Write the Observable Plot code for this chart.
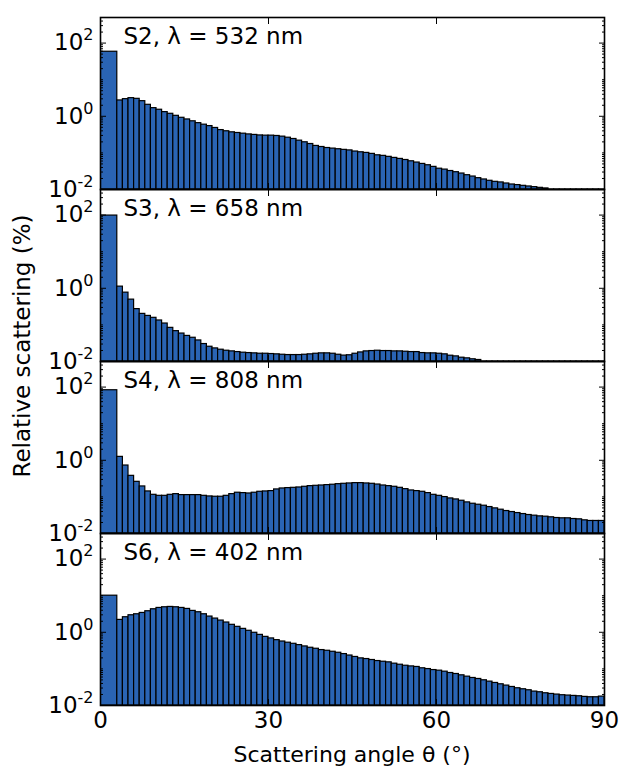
<!DOCTYPE html>
<html>
<head>
<meta charset="utf-8">
<script src="https://cdn.jsdelivr.net/npm/d3@7"></script>
<script src="https://cdn.jsdelivr.net/npm/@observablehq/plot@0.6"></script>
<style>
  html, body { margin: 0; padding: 0; background: #fff; }
  #chart { width: 619px; height: 766px; }
</style>
</head>
<body>
<div id="chart"></div>
<script>
// ---- data ----
const panels = ["S2", "S3", "S4", "S6"];
const panelTitles = ["S2, λ = 532 nm", "S3, λ = 658 nm", "S4, λ = 808 nm", "S6, λ = 402 nm"];

// bin edges in degrees: first bin 0–3°, then 1° bins up to 90°
const binEdges = [0, 3, 4, 5, 6, 7, 8, 9, 10, 11, 12, 13, 14, 15, 16, 17, 18, 19, 20,
  21, 22, 23, 24, 25, 26, 27, 28, 29, 30, 31, 32, 33, 34, 35, 36, 37, 38, 39, 40,
  41, 42, 43, 44, 45, 46, 47, 48, 49, 50, 51, 52, 53, 54, 55, 56, 57, 58, 59, 60,
  61, 62, 63, 64, 65, 66, 67, 68, 69, 70, 71, 72, 73, 74, 75, 76, 77, 78, 79, 80,
  81, 82, 83, 84, 85, 86, 87, 88, 89, 90];

const S2 = [58,
  2.71, 2.94, 3.13, 3.0, 2.59, 2.06, 1.67, 1.51, 1.30, 1.17, 1.03, 0.91, 0.82, 0.73, 0.65, 0.59, 0.54,
  0.48, 0.42, 0.39, 0.365, 0.35, 0.335, 0.32, 0.31, 0.30, 0.296, 0.296, 0.29, 0.278, 0.26, 0.24, 0.216,
  0.195, 0.175, 0.155, 0.145, 0.136, 0.131, 0.126, 0.121, 0.117, 0.109, 0.104, 0.100, 0.094, 0.086,
  0.083, 0.078, 0.073, 0.0685, 0.064, 0.059, 0.0545, 0.050, 0.046, 0.0415, 0.037, 0.035, 0.032, 0.0297,
  0.0273, 0.0246, 0.0226, 0.0204, 0.0188, 0.0173, 0.0162, 0.0156, 0.0146, 0.0137, 0.0132, 0.0126,
  0.0121, 0.0116, 0.0111, 0.0107,
  0.009, 0.009, 0.009, 0.009, 0.009, 0.009, 0.009, 0.009, 0.009, 0.009];

const S3 = [97,
  1.11, 0.76, 0.49, 0.27, 0.20, 0.176, 0.156, 0.132, 0.109, 0.083, 0.0675, 0.058, 0.050, 0.0445, 0.0376,
  0.030, 0.0253, 0.0228, 0.021, 0.0197, 0.0189, 0.0181, 0.0174, 0.0170, 0.0167, 0.0163, 0.0163, 0.016,
  0.0157, 0.0153, 0.015, 0.015, 0.015, 0.0153, 0.0157, 0.0163, 0.0167, 0.0167, 0.0163, 0.0153, 0.0145,
  0.0148, 0.0163, 0.0177, 0.0189, 0.0193, 0.0197, 0.0193, 0.0193, 0.0189, 0.0189, 0.0185, 0.0181, 0.0181,
  0.017, 0.0167, 0.0167, 0.0163, 0.0157, 0.0144, 0.0138, 0.0127, 0.0122, 0.0115, 0.011,
  0.009, 0.009, 0.009, 0.009, 0.009, 0.009, 0.009, 0.009, 0.009, 0.009, 0.009,
  0.009, 0.009, 0.009, 0.009, 0.009, 0.009, 0.009, 0.009, 0.009, 0.009, 0.009];

const S4 = [82,
  1.24, 0.72, 0.376, 0.258, 0.193, 0.141, 0.114, 0.107, 0.107, 0.114, 0.119, 0.112, 0.112, 0.112, 0.112,
  0.107, 0.103, 0.101, 0.101, 0.107, 0.119, 0.130, 0.127, 0.124, 0.130, 0.138, 0.141, 0.144, 0.160, 0.170,
  0.174, 0.177, 0.181, 0.189, 0.197, 0.201, 0.205, 0.210, 0.215, 0.223, 0.228, 0.233, 0.238, 0.238, 0.233,
  0.228, 0.218, 0.205, 0.197, 0.189, 0.177, 0.163, 0.150, 0.144, 0.138, 0.127, 0.114, 0.107, 0.0989,
  0.0908, 0.0853, 0.0785, 0.0708, 0.065, 0.0611, 0.0574, 0.0528, 0.0486, 0.0447, 0.0411, 0.0386, 0.0362,
  0.034, 0.032, 0.0307, 0.0294, 0.0288, 0.0277, 0.0265, 0.026, 0.026, 0.0249, 0.0244, 0.0229, 0.022,
  0.022, 0.022];

const S6 = [10.0,
  2.18, 2.58, 2.92, 3.11, 3.38, 3.76, 4.26, 4.63, 4.83, 4.93, 4.83, 4.63, 4.35, 3.84, 3.53, 3.11, 2.69,
  2.37, 2.09, 1.85, 1.60, 1.41, 1.24, 1.10, 0.97, 0.85, 0.75, 0.68, 0.61, 0.56, 0.52, 0.485, 0.447, 0.411,
  0.378, 0.355, 0.327, 0.313, 0.294, 0.276, 0.254, 0.232, 0.212, 0.194, 0.186, 0.175, 0.164, 0.157, 0.151,
  0.139, 0.130, 0.122, 0.117, 0.113, 0.104, 0.099, 0.093, 0.0895, 0.084, 0.0773, 0.0726, 0.0668, 0.0614,
  0.0565, 0.0531, 0.0489, 0.0449, 0.0413, 0.038, 0.035, 0.0321, 0.0296, 0.0278, 0.0261, 0.024, 0.023,
  0.0216, 0.0207, 0.0199, 0.0191, 0.0187, 0.0183, 0.0179, 0.0172, 0.0168, 0.0168, 0.0175];

const series = [S2, S3, S4, S6];

const xTicks = [0, 30, 60, 90];
const xInnerTicks = [30, 60];
const yMajorTicks = [0.01, 1, 100];
const yMinorTicks = [0.02, 0.03, 0.04, 0.05, 0.06, 0.07, 0.08, 0.09,
  0.1, 0.2, 0.3, 0.4, 0.5, 0.6, 0.7, 0.8, 0.9,
  2, 3, 4, 5, 6, 7, 8, 9,
  10, 20, 30, 40, 50, 60, 70, 80, 90,
  200, 300, 400];
const yDomain = [0.01, 500];

const xLabel = "Scattering angle θ (°)";
const yLabel = "Relative scattering (%)";

// ---- build table ----
const rows = [];
series.forEach((vals, p) => {
  vals.forEach((v, i) => {
    rows.push({panel: panels[p], x1: binEdges[i], x2: binEdges[i + 1], value: v});
  });
});
const titles = panels.map((p, i) => ({panel: p, label: panelTitles[i]}));

const FONT = "DejaVu Sans, Liberation Sans, sans-serif";
const FS = 23;
const fill = "#2a64b4";

const supFmt = v => "10^" + Math.round(Math.log10(v));

const chart = Plot.plot({
  width: 619,
  height: 766,
  marginTop: 15,
  marginBottom: 60,
  marginLeft: 100,
  marginRight: 15,
  style: {fontFamily: FONT, fontSize: FS + "px", background: "#fff", color: "#000"},
  x: {domain: [0, 90]},
  y: {type: "log", domain: yDomain},
  fy: {domain: panels, axis: null, padding: 0},
  marks: [
    Plot.rectY(rows, {
      x1: "x1", x2: "x2", y1: () => yDomain[0], y2: "value", fy: "panel",
      fill: fill, stroke: "#000", strokeWidth: 1.2, clip: true
    }),
    Plot.text(titles, {
      fy: "panel", text: "label", frameAnchor: "top-left", textAnchor: "start",
      lineAnchor: "top", dx: 23, dy: 10, fontSize: FS, fill: "#000"
    }),
    // inward ticks
    Plot.axisX(xInnerTicks, {anchor: "bottom", tickSize: -6, fill: "none", label: null, facetAnchor: null, strokeWidth: 1}),
    Plot.axisX(xInnerTicks, {anchor: "top", tickSize: -6, fill: "none", label: null, facetAnchor: null, strokeWidth: 1}),
    Plot.axisY(yMajorTicks, {anchor: "left", tickSize: -6, fill: "none", label: null, facetAnchor: null, strokeWidth: 1}),
    Plot.axisY(yMajorTicks, {anchor: "right", tickSize: -6, fill: "none", label: null, facetAnchor: null, strokeWidth: 1}),
    Plot.axisY(yMinorTicks, {anchor: "left", tickSize: -3, fill: "none", label: null, facetAnchor: null, strokeWidth: 1}),
    Plot.axisY(yMinorTicks, {anchor: "right", tickSize: -3, fill: "none", label: null, facetAnchor: null, strokeWidth: 1}),
    // tick labels
    Plot.axisY(yMajorTicks, {anchor: "left", tickSize: 0, tickPadding: 7, tickFormat: supFmt, label: null, facetAnchor: null, fontSize: FS}),
    Plot.axisX(xTicks, {anchor: "bottom", tickSize: 0, tickPadding: 6, label: null, facetAnchor: "bottom", fontSize: FS}),
    Plot.frame({stroke: "#000", strokeWidth: 1.6})
  ]
});

// superscripts on the log tick labels
d3.select(chart).selectAll('g[aria-label="y-axis tick label"] text').each(function () {
  const t = this.textContent;
  if (!t.includes("^")) return;
  const [base, exp] = t.split("^");
  this.textContent = base;
  d3.select(this).append("tspan").attr("dy", -10).attr("font-size", 16).text(exp);
});

// axis titles
const svg = d3.select(chart);
svg.append("text")
  .attr("transform", "translate(30,346) rotate(-90)")
  .attr("text-anchor", "middle")
  .attr("font-family", FONT).attr("font-size", FS).attr("fill", "#000")
  .text(yLabel);
svg.append("text")
  .attr("x", 352).attr("y", 762)
  .attr("text-anchor", "middle")
  .attr("font-family", FONT).attr("font-size", 22).attr("fill", "#000")
  .text(xLabel);

document.getElementById("chart").appendChild(chart);
</script>
</body>
</html>
